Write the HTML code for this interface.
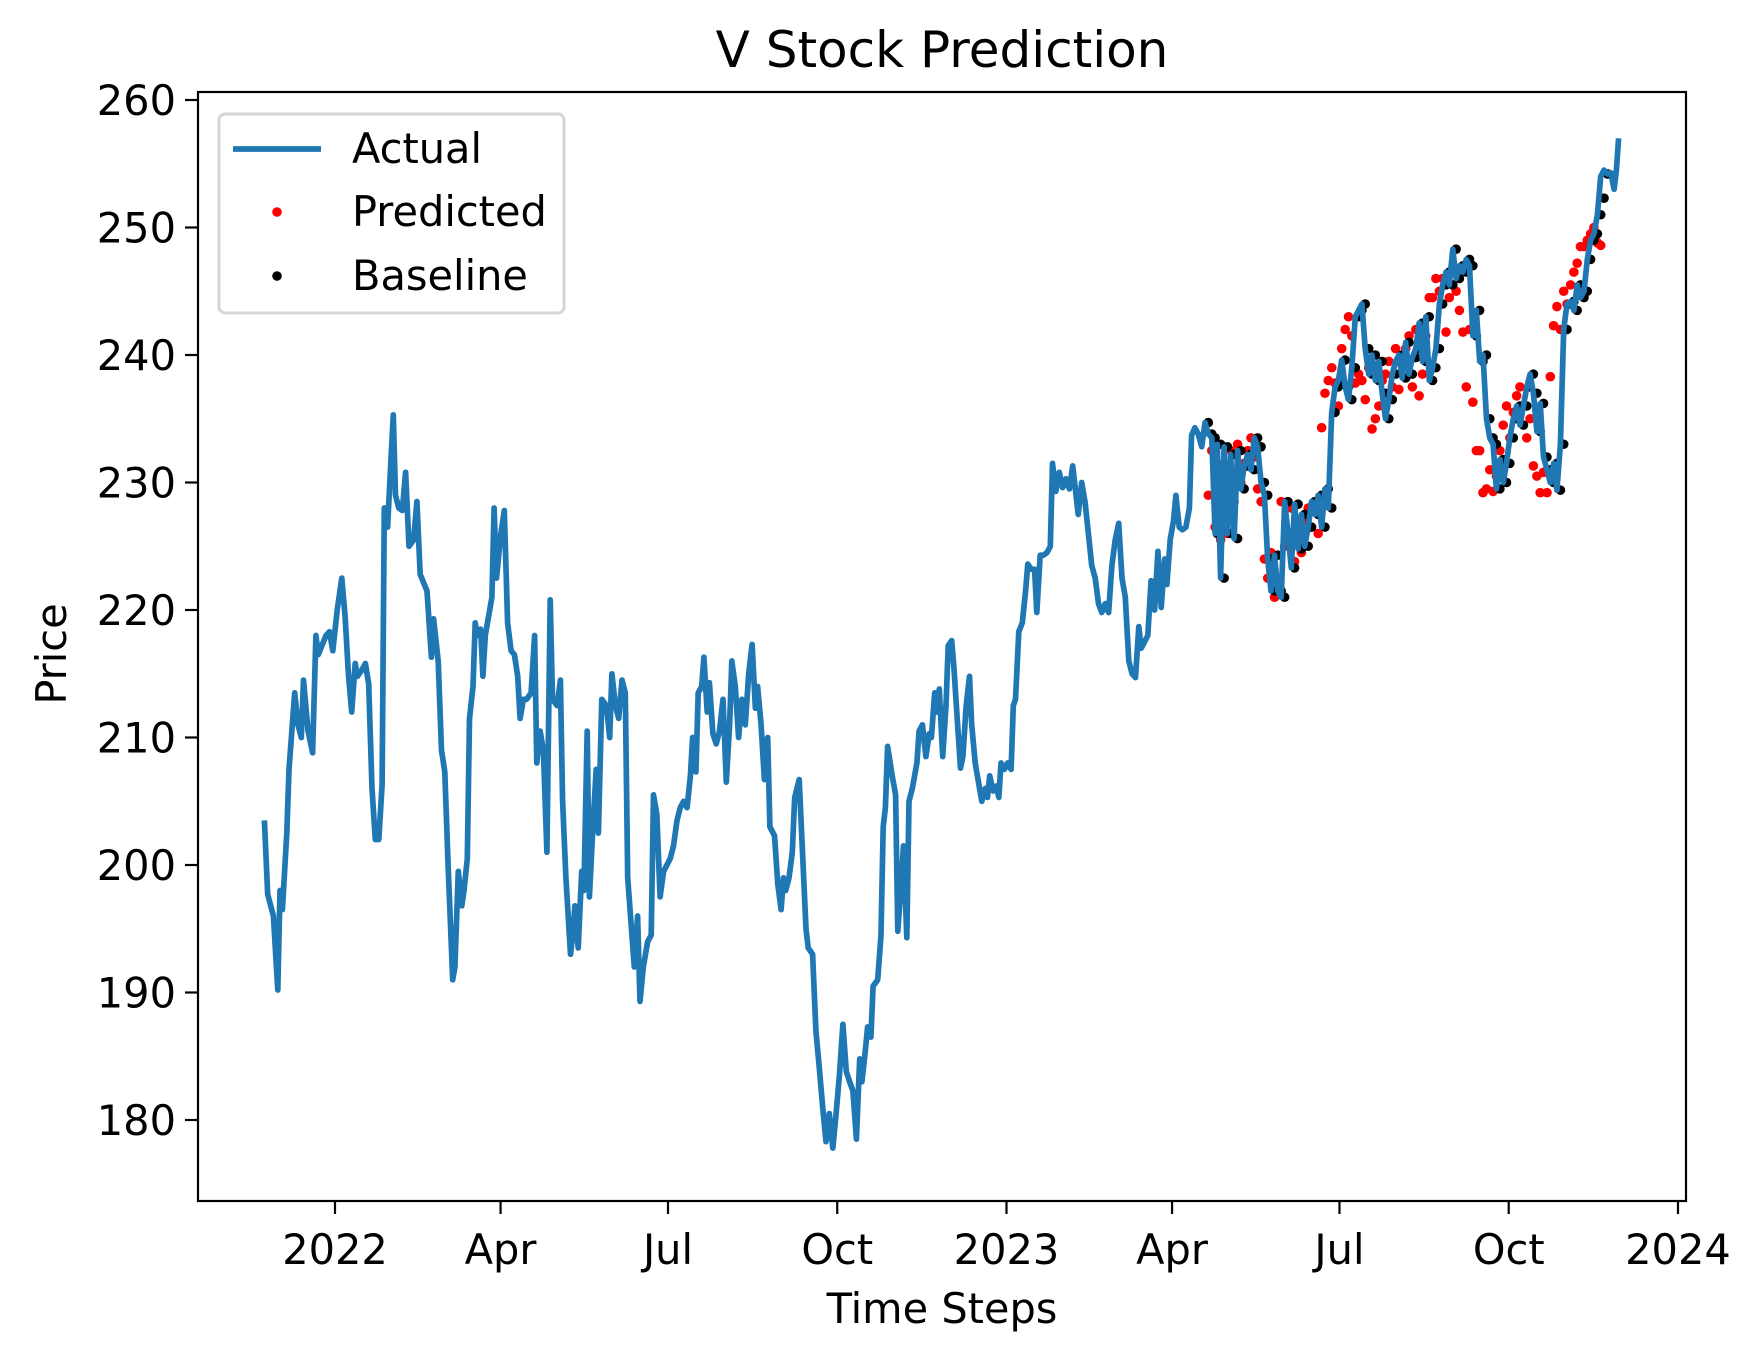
<!DOCTYPE html>
<html><head><meta charset="utf-8"><style>
html,body{margin:0;padding:0;background:#fff}
svg{display:block;font-family:"DejaVu Sans","Liberation Sans",sans-serif}
</style></head><body>
<svg id="chart" width="1759" height="1361" viewBox="0 0 1759 1361">
<rect width="1759" height="1361" fill="#fff"/>
<text x="942" y="67" font-size="50" text-anchor="middle">V Stock Prediction</text>
<g id="plot"></g>
<g id="axes"></g>
<text x="942" y="1323" font-size="41.5" text-anchor="middle">Time Steps</text>
<text transform="translate(66,654) rotate(-90)" font-size="41.5" text-anchor="middle">Price</text>
<g>
<rect x="219" y="114" width="345" height="199" rx="6" fill="#fff" stroke="#d6d6d6" stroke-width="3"/>
<line x1="233" y1="149" x2="321" y2="149" stroke="#1f77b4" stroke-width="5.7"/>
<text x="352" y="163" font-size="41.5">Actual</text>
<circle cx="277" cy="212" r="4.8" fill="red"/>
<text x="352" y="226" font-size="41.5">Predicted</text>
<circle cx="277" cy="276" r="4.8" fill="#000"/>
<text x="352" y="290" font-size="41.5">Baseline</text>
</g>
</svg>
<script>
// days since 2022-01-01
const dates=[-38.4,-36.6,-33.5,-31.1,-29.9,-28.6,-26.2,-25.0,-21.9,-20.1,-18.3,-17.1,-14.6,-12.2,-10.4,-9.1,-4.9,-3.0,-1.2,1.2,3.7,5.5,7.3,9.1,11.0,12.2,14.6,16.5,18.3,20.1,21.9,23.8,25.6,26.8,28.6,30.5,31.7,32.9,34.7,36.6,38.4,40.2,42.7,44.5,46.3,50.0,52.4,53.6,56.1,57.9,59.7,61.5,64.0,65.2,67.0,68.9,70.1,71.9,73.1,75.0,76.2,77.4,79.2,80.4,81.7,84.1,85.3,86.5,87.8,90.2,92.0,93.8,95.7,97.5,99.3,100.6,102.4,104.2,106.6,108.5,109.7,111.5,113.3,115.2,117.0,118.2,120.7,122.5,123.7,125.5,128.0,129.2,130.4,132.2,134.1,135.3,137.1,138.3,140.2,142.0,143.2,145.0,147.5,149.3,150.5,152.4,154.2,156.0,157.8,159.1,160.9,162.7,164.5,165.8,167.6,170.0,171.9,173.1,174.9,176.7,178.6,180.4,182.2,184.0,185.9,187.7,189.5,191.4,193.2,194.4,196.2,197.4,199.3,200.5,202.3,203.5,205.4,207.2,209.0,210.9,212.7,214.5,215.7,217.6,219.4,221.2,223.0,224.9,226.7,228.5,229.7,231.6,233.4,235.2,236.4,238.9,240.7,242.5,243.8,245.0,246.8,248.6,249.9,252.3,254.1,256.0,257.2,259.6,261.4,263.3,265.1,266.9,268.7,270.6,272.4,274.2,276.1,277.9,279.7,281.5,283.4,285.2,286.4,288.3,289.5,291.3,292.5,295.0,296.8,298.0,299.2,300.4,302.9,304.7,305.9,307.7,309.0,310.8,312.0,313.8,316.3,317.5,319.3,321.2,323.0,324.2,326.0,327.2,328.5,330.3,332.1,333.3,335.2,336.4,338.2,340.0,341.3,343.1,344.9,346.1,348.0,349.8,351.6,353.5,354.7,355.9,357.7,359.5,360.8,362.0,363.8,365.6,367.5,368.7,369.9,371.7,373.6,375.4,376.6,378.4,380.3,381.5,383.3,385.1,387.0,388.8,390.0,391.8,393.7,395.5,397.3,399.2,401.0,402.2,404.0,405.9,407.7,409.5,411.3,413.2,415.0,416.8,418.7,420.5,422.3,424.1,426.0,427.8,429.6,431.5,433.3,435.1,436.9,438.2,440.0,441.8,443.6,445.5,447.3,449.1,451.0,452.2,454.0,455.8,457.1,458.9,460.7,462.5,464.4,465.6,467.4,469.2,471.1,472.9,474.7,476.6,478.4,479.6,481.4,483.3,485.1,486.9,488.7,490.6,492.4,494.2,496.1,497.9,499.7,501.5,503.4,505.2,507.0,508.8,510.7,512.5,514.3,516.2,518.0,519.8,521.6,523.5,525.3,527.1,529.0,530.8,532.6,534.4,536.3,538.1,539.9,541.8,543.6,545.4,547.2,549.1,550.9,552.7,554.6,556.4,558.2,560.0,561.9,563.7,565.5,567.4,569.2,571.0,572.8,574.7,576.5,578.3,580.1,582.0,583.8,585.6,587.5,589.3,591.1,592.9,594.8,596.6,598.4,600.3,602.1,603.9,605.7,607.6,609.4,611.2,613.1,614.9,616.7,618.5,620.4,622.2,624.0,625.9,627.7,629.5,631.3,633.2,635.0,636.8,638.6,640.5,642.3,644.1,646.0,647.8,649.6,651.4,653.3,655.1,656.9,658.8,660.6,662.4,664.2,666.1,667.9,669.7,671.6,673.4,675.2,677.0,678.9,680.7,682.5,684.3,686.2,688.0,689.8,691.7,693.5,695.3,696.5,697.7];
const actual=[203.5,197.7,196,190.2,198,196.5,202.5,207.5,213.5,211,210,214.5,210.5,208.8,218,216.5,218,218.3,216.8,220,222.5,219.5,215,212,215.8,214.8,215.3,215.8,214.2,206,202,202,206.3,228,226.5,232,235.3,229,228,227.8,230.8,225,225.5,228.5,222.8,221.5,216.3,219.3,216,209,207.3,200,191,192,199.5,196.8,198,200.5,211.5,214,219,218,218.5,214.8,218,220,221,228,222.5,226,227.8,219,216.8,216.5,214.8,211.5,213,213,213.5,218,208,210.5,209,201,220.8,213,212.5,214.5,205,199,193,194.5,196.8,193.5,199.5,198,210.5,197.5,203,207.5,202.5,213,212.5,210,215,212.5,211.5,214.5,213.5,199,195.5,192,196,189.3,192,194,194.5,205.5,204,197.5,199.5,200,200.5,201.5,203.5,204.5,205,204.5,207,210,207.3,213.5,214,216.3,212,214.3,210.3,209.5,210.5,213,206.5,211,216,214,210,213,211,215,217.3,212.3,214,211,206.7,210,203,202.3,198.5,196.5,199,198,199,201,205.3,206.7,201,195,193.5,193,187,184,181,178.3,180.5,177.8,180.5,183.5,187.5,183.8,183,182.3,178.5,184.8,183,185.5,187.3,186.5,190.5,191,194.5,203,204.5,209.3,207,205.5,194.8,198.5,201.5,194.3,205,206,208,210.5,211,208.5,210.3,210,213.5,212,213.8,208.5,212.5,217.2,217.6,215.5,211.5,207.6,208.5,212.5,214.8,211,208,206.5,205,206,205.3,207,205.8,206.2,205.3,208,207.5,208,207.5,212.5,213,218.3,219,221.5,223.6,223.2,223.2,219.8,224.3,224.3,224.5,225,231.5,229.3,230.8,229.6,230.3,229.5,231.3,229.8,227.5,230,228.5,226,223.5,222.5,220.5,219.8,220.5,219.8,223.5,225.5,226.8,222.5,221,216,215,214.7,218.7,217,217.5,218,222.3,220,224.6,220.2,224,222,225.5,227,229,226.5,226.3,226.5,228,233.7,234.3,233.8,232.8,234.7,233.8,233.5,226,233,222.5,232.8,226,232.2,225.6,232.5,229.5,231.3,232.2,231,233.5,232.8,230,229,224,221.5,224.3,221.5,221,228.5,226,223.3,228.3,224.8,227.5,225,226.5,228.5,227.5,229,226.5,229.5,228,235.5,237.5,238,239.6,237.5,236.5,239,243,243.5,244,240.5,238.5,240,238,239.5,237,235,236.5,238.5,239.5,240,238.2,241,238.5,239.8,240.5,242.5,239.5,243,238,239,240.5,244,245.5,246.5,245.5,248.3,246,247,246.5,247.5,247,241.5,243.5,239.5,240,235,233.5,233,229.5,231.8,230,231.5,233.5,235,236,234.5,236,237.5,238.5,237,234,236.2,232,231,230,231.5,229.4,233,242,244,244.2,243.5,245.5,244.5,245,247.5,249,249.5,251,254,254.5,254.2,254.3,253,254.5,257];
// baseline & predicted start at the test start date
const testStartDate=474.7;
const baseline=[234.7,233.8,233.5,226,233,222.5,232.8,226,232.2,225.6,232.5,229.5,231.3,232.2,231,233.5,232.8,230,229,224,221.5,224.3,221.5,221,228.5,226,223.3,228.3,224.8,227.5,225,226.5,228.5,227.5,229,226.5,229.5,228,235.5,237.5,238,239.6,237.5,236.5,239,243,243.5,244,240.5,238.5,240,238,239.5,237,235,236.5,238.5,239.5,240,238.2,241,238.5,239.8,240.5,242.5,239.5,243,238,239,240.5,244,245.5,246.5,245.5,248.3,246,247,246.5,247.5,247,241.5,243.5,239.5,240,235,233.5,233,229.5,231.8,230,231.5,233.5,235,236,234.5,236,237.5,238.5,237,234,236.2,232,231,230,231.5,229.4,233,242,244,244.2,243.5,245.5,244.5,245,247.5,249,249.5,251,252.3,254.2];
const predicted=[229.0,232.5,226.5,231.5,225.5,231.0,226.0,232.5,228.5,233.0,230.0,231.5,232.5,233.5,232.0,229.5,228.5,224.0,222.5,224.5,221.0,221.5,228.5,225.0,225.5,228.0,223.8,226.0,224.5,227.0,228.0,226.5,228.5,226.0,234.3,237.0,238.0,239.0,237.8,236.0,240.5,242.0,243.0,241.5,237.8,238.5,238.0,236.5,239.0,234.2,235.0,236.0,238.0,238.5,239.5,237.5,240.5,237.3,239.5,240.5,241.5,237.5,242.0,236.8,238.5,241.5,244.5,244.5,246.0,245.0,246.0,241.8,244.5,245.5,245.0,243.5,241.8,237.5,242.0,236.3,232.5,232.5,229.2,229.5,231.0,229.3,230.5,232.5,234.5,236.0,233.5,235.5,236.8,237.5,236.0,233.5,235.0,231.3,230.5,229.2,230.8,229.2,238.3,242.3,243.8,242.0,245.0,244.0,245.5,246.5,247.2,248.5,248.5,249.0,249.5,250.0,248.8,248.6];
const yTicks=[180,190,200,210,220,230,240,250,260];
const xTickDays=[0,90,181,273,365,455,546,638,730];
const xTickLabels=["2022","Apr","Jul","Oct","2023","Apr","Jul","Oct","2024"];

const L=198,R=1686,T=92,B=1201;
const X=d=>335+d*1.8397;
const Y=v=>100+(260-v)*12.75;
const NS="http://www.w3.org/2000/svg";
const plot=document.getElementById('plot'), axes=document.getElementById('axes');
function mk(tag,attrs,parent){const e=document.createElementNS(NS,tag);for(const k in attrs)e.setAttribute(k,attrs[k]);parent.appendChild(e);return e;}

const cp=mk('clipPath',{id:'clip'},plot);mk('rect',{x:L,y:T,width:R-L,height:B-T},cp);
const g=mk('g',{'clip-path':'url(#clip)'},plot);

let s=dates.findIndex(v=>v>=testStartDate-0.05);
for(let k=0;k<predicted.length&&s+k<dates.length;k++){
  const c=mk('circle',{cx:X(dates[s+k]),cy:Y(predicted[k]),r:4.8,fill:'red'},g);
  
  
}
for(let k=0;k<baseline.length&&s+k<dates.length;k++){
  const c=mk('circle',{cx:X(dates[s+k]),cy:Y(baseline[k]),r:4.8,fill:'#000'},g);
  
  
}

let d='';
for(let i=0;i<Math.min(dates.length,actual.length);i++){d+=(i?'L':'M')+X(dates[i]).toFixed(1)+','+Y(actual[i]).toFixed(1);}
const line=mk('path',{d:d,fill:'none',stroke:'#1f77b4','stroke-width':5.7,'stroke-linejoin':'round'},g);



mk('rect',{x:L,y:T,width:R-L,height:B-T,fill:'none',stroke:'#000','stroke-width':2.2},axes);
yTicks.forEach(v=>{
  const y=Y(v);
  mk('line',{x1:L-13,y1:y,x2:L,y2:y,stroke:'#000','stroke-width':2.2},axes);
  const t=mk('text',{x:L-22,y:y+15,'font-size':41.5,'text-anchor':'end'},axes);
  t.textContent=v;
  
  
});
xTickDays.forEach((dd,i)=>{
  const x=X(dd);
  mk('line',{x1:x,y1:B,x2:x,y2:B+13,stroke:'#000','stroke-width':2.2},axes);
  const t=mk('text',{x:x,y:B+63,'font-size':41.5,'text-anchor':'middle'},axes);
  t.textContent=xTickLabels[i];
  
  
});
</script>
</body></html>
